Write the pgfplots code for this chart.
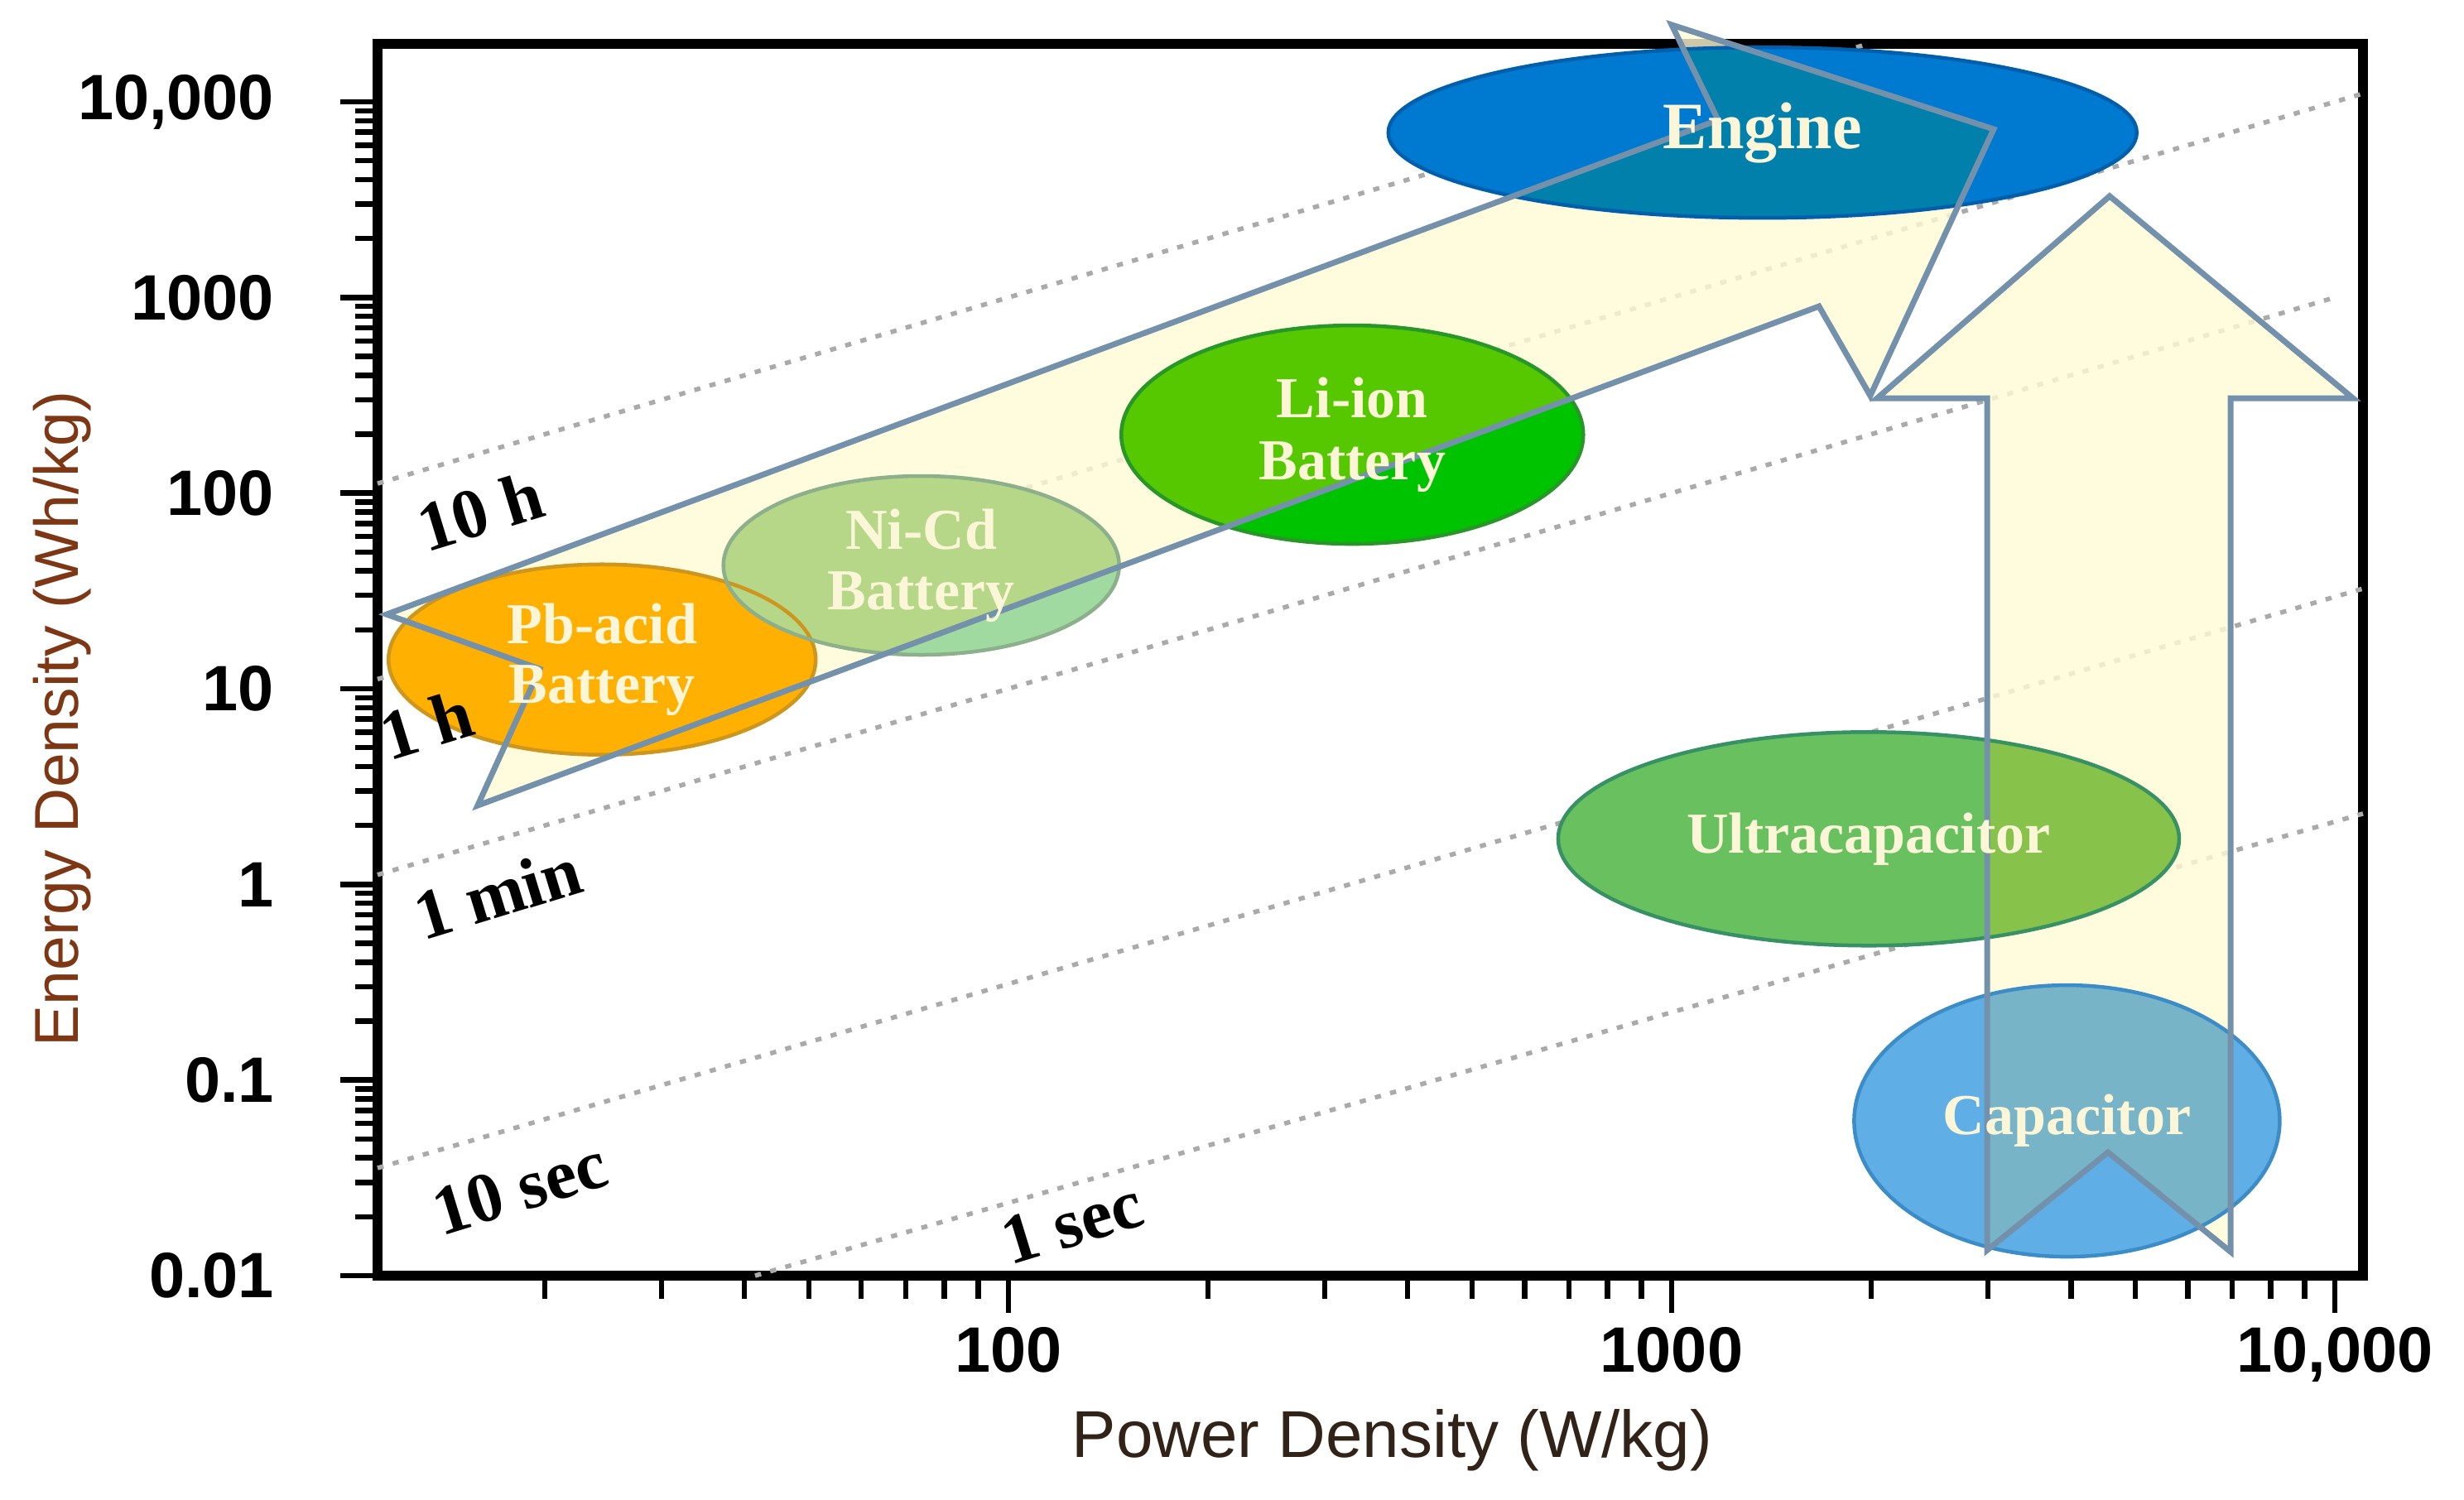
\documentclass[border=0pt]{standalone}
\usepackage{fontspec}
\setmainfont{Liberation Sans}
\newfontfamily\tnr{Liberation Serif}
\usepackage{pgfplots}
\pgfplotsset{compat=1.18}
\definecolor{arrowfill}{RGB}{255,251,212}
\definecolor{arrowline}{RGB}{115,145,170}
\definecolor{dotgray}{RGB}{170,170,170}
\definecolor{pbfill}{RGB}{255,176,0}
\definecolor{pbedge}{RGB}{205,150,30}
\definecolor{nicdout}{RGB}{160,218,160}
\definecolor{nicdin}{RGB}{182,215,135}
\definecolor{nicdedge}{RGB}{140,175,140}
\definecolor{liout}{RGB}{0,195,0}
\definecolor{liin}{RGB}{85,200,0}
\definecolor{liedge}{RGB}{40,150,40}
\definecolor{engout}{RGB}{0,122,208}
\definecolor{engin}{RGB}{0,128,170}
\definecolor{engedge}{RGB}{0,95,170}
\definecolor{ucout}{RGB}{105,192,95}
\definecolor{ucin}{RGB}{135,195,75}
\definecolor{ucedge}{RGB}{55,145,100}
\definecolor{capout}{RGB}{95,175,230}
\definecolor{capin}{RGB}{120,180,200}
\definecolor{capedge}{RGB}{60,140,200}
\definecolor{lbltext}{RGB}{250,246,215}
\definecolor{xlab}{RGB}{50,35,25}
\definecolor{ylab}{RGB}{125,55,20}
\begin{document}
\begin{tikzpicture}
\useasboundingbox (-91.2pt,-54pt) rectangle (504pt,308.2pt);
\begin{axis}[
  at={(0pt,0pt)}, anchor=south west,
  scale only axis, width=479.6pt, height=297.6pt,
  xmode=log, ymode=log,
  xmin=11.19, xmax=11026, ymin=0.01, ymax=19780,
  clip=false,
  axis line style={line width=2.4pt, black},
  tick align=outside, tick pos=left,
  major tick length=9pt, minor tick length=5.5pt,
  tick style={black, line width=1.3pt},
  xtick={100,1000,10000}, xticklabels={100,1000,{10,000}},
  ytick={0.01,0.1,1,10,100,1000,10000},
  yticklabels={0.01,0.1,1,10,100,1000,{10,000}},
  minor xtick={20,30,40,50,60,70,80,90,200,300,400,500,600,700,800,900,2000,3000,4000,5000,6000,7000,8000,9000},
  minor ytick={0.02,0.03,0.04,0.05,0.06,0.07,0.08,0.09,0.2,0.3,0.4,0.5,0.6,0.7,0.8,0.9,2,3,4,5,6,7,8,9,20,30,40,50,60,70,80,90,200,300,400,500,600,700,800,900,2000,3000,4000,5000,6000,7000,8000,9000},
  tick label style={font=\fontsize{15.5}{18}\selectfont\bfseries},
  yticklabel style={xshift=-12.5pt},
  /pgf/number format/assume math mode=true,
  xlabel={Power Density (W/kg)},
  ylabel={Energy Density (Wh/kg)},
  xlabel style={at={(axis description cs:0.511,-0.1337)}, anchor=center, font=\fontsize{16}{19}\selectfont, text=xlab},
  ylabel style={at={(axis description cs:-0.1589,0.452)}, anchor=center, font=\fontsize{15}{18}\selectfont, text=ylab},
]
% constant-time lines
\addplot[dotgray, line width=1.1pt, dash pattern=on 1.5pt off 2.3pt] coordinates {(11.19,111.9) (1978,19780)};
\addplot[dotgray, line width=1.1pt, dash pattern=on 1.5pt off 2.3pt] coordinates {(11.19,11.19) (11026,11026)};
\addplot[dotgray, line width=1.1pt, dash pattern=on 1.5pt off 2.3pt] coordinates {(11.19,1.119) (9910,991)};
\addplot[dotgray, line width=1.1pt, dash pattern=on 1.5pt off 2.3pt] coordinates {(11.19,0.0355) (11026,32.5)};
\addplot[dotgray, line width=1.1pt, dash pattern=on 1.5pt off 2.3pt] coordinates {(41.5,0.01) (11026,2.3)};
% arrow fills
\addplot[draw=none, fill=arrowfill, fill opacity=0.8] coordinates {(11.55,24.0) (1175,8070) (1000,24750) (3059,7250) (1993,314.6) (1668,901) (15.84,2.53) (19.65,12.62)} -- cycle;
\addplot[draw=none, fill=arrowfill, fill opacity=0.8] coordinates {(2990,0.0135) (2990,305) (2040,305) (4575,3297) (10655,305) (6963,305) (6963,0.01324) (4549,0.0427)} -- cycle;
% ellipses
\fill[pbfill] (24.4,14.1) ellipse [x radius=51.6pt, y radius=23pt];
\fill[nicdout] (73.9,42.7) ellipse [x radius=47.8pt, y radius=21.6pt];
\fill[liout] (330,199) ellipse [x radius=55.8pt, y radius=26.4pt];
\fill[engout] (1371,6960) ellipse [x radius=90.4pt, y radius=20.6pt];
\fill[ucout] (1982,1.71) ellipse [x radius=75pt, y radius=25.8pt];
\fill[capout] (3945,0.0618) ellipse [x radius=51.4pt, y radius=32.8pt];
\begin{scope}
\clip (11.55,24.0) -- (1175,8070) -- (1000,24750) -- (3059,7250) -- (1993,314.6) -- (1668,901) -- (15.84,2.53) -- (19.65,12.62) -- cycle;
\fill[nicdin] (73.9,42.7) ellipse [x radius=47.8pt, y radius=21.6pt];
\fill[liin] (330,199) ellipse [x radius=55.8pt, y radius=26.4pt];
\fill[engin] (1371,6960) ellipse [x radius=90.4pt, y radius=20.6pt];
\end{scope}
\begin{scope}
\clip (2990,0.0135) -- (2990,305) -- (2040,305) -- (4575,3297) -- (10655,305) -- (6963,305) -- (6963,0.01324) -- (4549,0.0427) -- cycle;
\fill[ucin] (1982,1.71) ellipse [x radius=75pt, y radius=25.8pt];
\fill[capin] (3945,0.0618) ellipse [x radius=51.4pt, y radius=32.8pt];
\end{scope}
\draw[pbedge, line width=0.9pt] (24.4,14.1) ellipse [x radius=51.6pt, y radius=23pt];
\draw[nicdedge, line width=0.9pt] (73.9,42.7) ellipse [x radius=47.8pt, y radius=21.6pt];
\draw[liedge, line width=0.9pt] (330,199) ellipse [x radius=55.8pt, y radius=26.4pt];
\draw[engedge, line width=0.9pt] (1371,6960) ellipse [x radius=90.4pt, y radius=20.6pt];
\draw[ucedge, line width=0.9pt] (1982,1.71) ellipse [x radius=75pt, y radius=25.8pt];
\draw[capedge, line width=0.9pt] (3945,0.0618) ellipse [x radius=51.4pt, y radius=32.8pt];
% arrow outlines
\addplot[draw=arrowline, line width=1.4pt, line join=miter] coordinates {(11.55,24.0) (1175,8070) (1000,24750) (3059,7250) (1993,314.6) (1668,901) (15.84,2.53) (19.65,12.62)} -- cycle;
\addplot[draw=arrowline, line width=1.4pt, line join=miter] coordinates {(2990,0.0135) (2990,305) (2040,305) (4575,3297) (10655,305) (6963,305) (6963,0.01324) (4549,0.0427)} -- cycle;
% ellipse labels
\node[text=lbltext, align=center, font=\tnr\bfseries\fontsize{14}{14.5}\selectfont] at (24.4,14.1) {Pb-acid\\Battery};
\node[text=lbltext, align=center, font=\tnr\bfseries\fontsize{14}{14.5}\selectfont] at (73.9,42.7) {Ni-Cd\\Battery};
\node[text=lbltext, align=center, font=\tnr\bfseries\fontsize{14}{15}\selectfont] at (330,199) {Li-ion\\Battery};
\node[text=lbltext, font=\tnr\bfseries\fontsize{16}{16}\selectfont] at (1371,6960) {Engine};
\node[text=lbltext, font=\tnr\bfseries\fontsize{14}{14}\selectfont] at (1982,1.71) {Ultracapacitor};
\node[text=lbltext, font=\tnr\bfseries\fontsize{14}{14}\selectfont] at (3945,0.0618) {Capacitor};
% line labels
\node[rotate=17, font=\tnr\bfseries\fontsize{17}{17}\selectfont] at (15.98,81.2) {10 h};
\node[rotate=17, font=\tnr\bfseries\fontsize{17}{17}\selectfont] at (13.25,6.57) {1 h};
\node[rotate=17, font=\tnr\bfseries\fontsize{17}{17}\selectfont] at (16.97,0.909) {1 min};
\node[rotate=17, font=\tnr\bfseries\fontsize{17}{17}\selectfont] at (18.34,0.02803) {10 sec};
\node[rotate=17, font=\tnr\bfseries\fontsize{17}{17}\selectfont] at (124.8,0.01862) {1 sec};
\end{axis}
\end{tikzpicture}
\end{document}
